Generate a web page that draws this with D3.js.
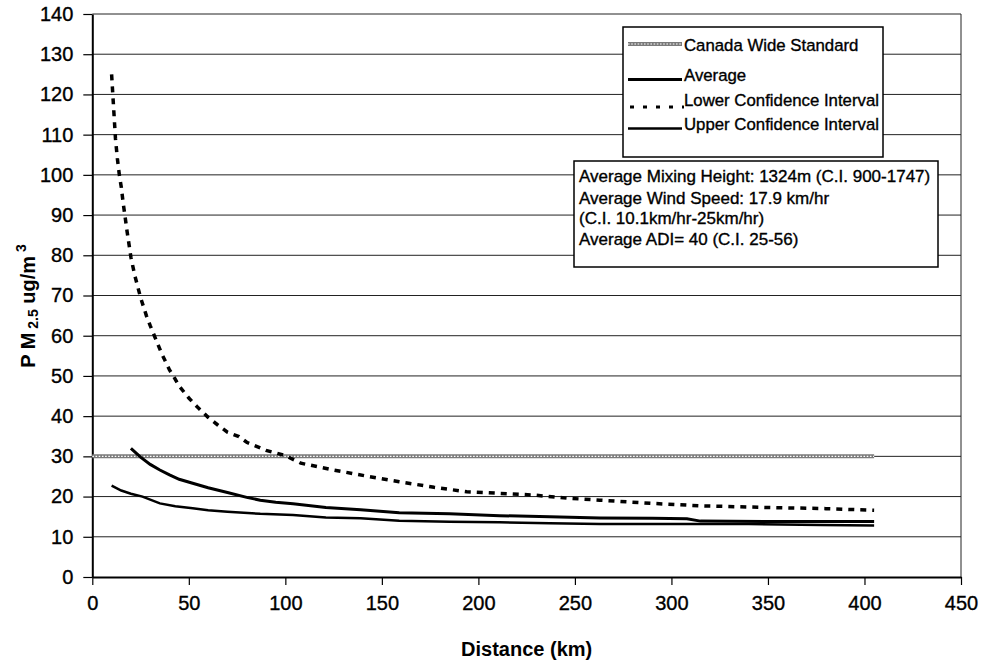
<!DOCTYPE html>
<html>
<head>
<meta charset="utf-8">
<script src="https://cdn.jsdelivr.net/npm/d3@7/dist/d3.min.js"></script>
<style>
  html, body { margin: 0; padding: 0; background: #fff; }
  svg { display: block; font-family: "Liberation Sans", Arial, sans-serif; }
  .heavy { stroke: #000; stroke-width: 0.35px; }
</style>
</head>
<body>
<svg id="chart" width="983" height="667"></svg>
<script>
// PM2.5 concentration versus downwind distance
const xTicks = [0, 50, 100, 150, 200, 250, 300, 350, 400, 450];
const yTicks = [0, 10, 20, 30, 40, 50, 60, 70, 80, 90, 100, 110, 120, 130, 140];

// Canada Wide Standard (ug/m3)
const standardX = [0, 405];
const standardY = [30, 30];

// Average
const avgX = [20, 25, 30, 35, 40, 45, 52, 60, 70, 80, 87, 95, 104, 121, 139, 159, 185, 211, 237, 263, 290, 308, 315, 350, 377, 405];
const avgY = [32, 29.8, 28, 26.6, 25.4, 24.3, 23.3, 22.2, 21, 19.8, 19.1, 18.6, 18.2, 17.3, 16.7, 16, 15.7, 15.25, 15, 14.7, 14.6, 14.5, 13.9, 13.8, 13.8, 13.8];

// Lower Confidence Interval
const lowerX = [10, 11, 12, 13, 14, 15, 16, 18, 20, 22, 25, 28, 30, 33, 36, 40, 42, 45, 50, 55, 60, 65, 70, 76, 80, 90, 100, 108, 125, 142, 159, 177, 194, 211, 228, 246, 263, 290, 315, 349, 380, 405];
const lowerY = [125, 117, 109, 104, 100, 97, 93, 86, 79.5, 75, 69.5, 65, 62.5, 59, 55.5, 51.5, 50, 47.5, 44.5, 42, 39.7, 37.8, 36, 34.9, 33.5, 31.5, 30.2, 28.3, 26.6, 25.1, 23.7, 22.3, 21.2, 20.8, 20.4, 19.6, 19.1, 18.3, 17.7, 17.3, 17, 16.6];

// Upper Confidence Interval
const upperX = [10, 15, 20, 26, 35, 43, 52, 60, 70, 87, 104, 121, 139, 159, 185, 211, 237, 263, 300, 340, 377, 405];
const upperY = [22.7, 21.5, 20.7, 20, 18.3, 17.6, 17.1, 16.6, 16.2, 15.7, 15.4, 14.8, 14.6, 14.0, 13.75, 13.6, 13.35, 13.2, 13.2, 13.15, 12.9, 12.8];

const legendLabels = ["Canada Wide Standard", "Average", "Lower Confidence Interval", "Upper Confidence Interval"];
const noteLines = [
  "Average Mixing Height: 1324m (C.I. 900-1747)",
  "Average Wind Speed: 17.9 km/hr",
  "(C.I. 10.1km/hr-25km/hr)",
  "Average ADI= 40 (C.I. 25-56)"
];

const svg = d3.select("#chart");
const plotLeft = 92.3, plotRight = 961, plotTop = 14, plotBottom = 577;

const x = d3.scaleLinear().domain([0, 450]).range([plotLeft, plotRight]);
const y = d3.scaleLinear().domain([0, 140]).range([plotBottom, plotTop]);

const zip = (xs, ys) => xs.map((v, i) => [v, ys[i]]);
const line = d3.line().x(d => x(d[0])).y(d => y(d[1]));

// horizontal gridlines
svg.append("g").selectAll("line")
  .data(yTicks.filter(t => t > 0))
  .join("line")
  .attr("x1", plotLeft).attr("x2", plotRight)
  .attr("y1", d => y(d)).attr("y2", d => y(d))
  .attr("stroke", "#222").attr("stroke-width", 1);

// right border of plot area
svg.append("line")
  .attr("x1", plotRight).attr("x2", plotRight).attr("y1", plotTop).attr("y2", plotBottom)
  .attr("stroke", "#222").attr("stroke-width", 1);

// axes
const yAxis = svg.append("g")
  .attr("transform", `translate(${plotLeft},0)`)
  .call(d3.axisLeft(y).tickValues(yTicks).tickSize(9).tickPadding(10).tickSizeOuter(0));
const xAxis = svg.append("g")
  .attr("transform", `translate(0,${plotBottom})`)
  .call(d3.axisBottom(x).tickValues(xTicks).tickSize(8).tickPadding(11).tickSizeOuter(0));

[yAxis, xAxis].forEach(g => {
  g.select(".domain").attr("stroke", "#000").attr("stroke-width", 2);
  g.selectAll(".tick line").attr("stroke", "#000").attr("stroke-width", 1.2);
  g.selectAll(".tick text").attr("fill", "#000").attr("class", "heavy")
    .style("font-size", "20px")
    .style("font-family", "'Liberation Sans', Arial, sans-serif");
});

// standard line: grey band with a chain texture
function drawStandard(g, d) {
  g.append("path").attr("d", d).attr("fill", "none")
    .attr("stroke", "#7a7a7a").attr("stroke-width", 4);
  g.append("path").attr("d", d).attr("fill", "none")
    .attr("stroke", "#fff").attr("stroke-width", 1.2)
    .attr("stroke-dasharray", "1.6,1.6");
}

const series = svg.append("g");
drawStandard(series, line(zip(standardX, standardY)));

series.append("path")
  .attr("d", line(zip(lowerX, lowerY)))
  .attr("fill", "none").attr("stroke", "#000")
  .attr("stroke-width", 3.5).attr("stroke-dasharray", "6,6");

series.append("path")
  .attr("d", line(zip(upperX, upperY)))
  .attr("fill", "none").attr("stroke", "#000")
  .attr("stroke-width", 2.5);

series.append("path")
  .attr("d", line(zip(avgX, avgY)))
  .attr("fill", "none").attr("stroke", "#000")
  .attr("stroke-width", 3);

// legend
const lg = svg.append("g");
lg.append("rect").attr("x", 623).attr("y", 27).attr("width", 260).attr("height", 130)
  .attr("fill", "#fff").attr("stroke", "#000").attr("stroke-width", 1.5);
const baselines = [51, 80.5, 105.5, 129.5];
const sampleY = [44, 79.5, 107, 128.5];
drawStandard(lg, `M628,${sampleY[0]}H682`);
lg.append("line").attr("x1", 628).attr("x2", 682).attr("y1", sampleY[1]).attr("y2", sampleY[1])
  .attr("stroke", "#000").attr("stroke-width", 3);
lg.append("line").attr("x1", 630).attr("x2", 684).attr("y1", sampleY[2]).attr("y2", sampleY[2])
  .attr("stroke", "#000").attr("stroke-width", 3).attr("stroke-dasharray", "4,9");
lg.append("line").attr("x1", 628).attr("x2", 682).attr("y1", sampleY[3]).attr("y2", sampleY[3])
  .attr("stroke", "#000").attr("stroke-width", 2.5);
lg.selectAll("text").data(legendLabels).join("text")
  .attr("class", "heavy")
  .attr("x", 684).attr("y", (d, i) => baselines[i])
  .style("font-size", "16.8px").attr("fill", "#000")
  .text(d => d);

// notes box
const nb = svg.append("g");
nb.append("rect").attr("x", 574).attr("y", 161).attr("width", 364).attr("height", 106)
  .attr("fill", "#fff").attr("stroke", "#000").attr("stroke-width", 1.5);
const noteBase = [182, 204, 224, 245];
nb.selectAll("text").data(noteLines).join("text")
  .attr("class", "heavy")
  .attr("x", 579).attr("y", (d, i) => noteBase[i])
  .style("font-size", "17px").attr("fill", "#000")
  .text(d => d);

// axis titles
svg.append("text")
  .attr("x", (plotLeft + plotRight) / 2).attr("y", 656)
  .attr("text-anchor", "middle")
  .style("font-size", "20px").style("font-weight", "bold")
  .text("Distance (km)");

const yt = svg.append("text")
  .attr("transform", "translate(35,306) rotate(-90)")
  .attr("text-anchor", "middle")
  .style("font-size", "20px").style("font-weight", "bold");
yt.append("tspan").text("P M");
yt.append("tspan").style("font-size", "14px").attr("dy", 3).text(" 2.5");
yt.append("tspan").attr("dy", -3).text(" ug/m");
yt.append("tspan").style("font-size", "14px").attr("dy", -9).text(" 3");
</script>
</body>
</html>
